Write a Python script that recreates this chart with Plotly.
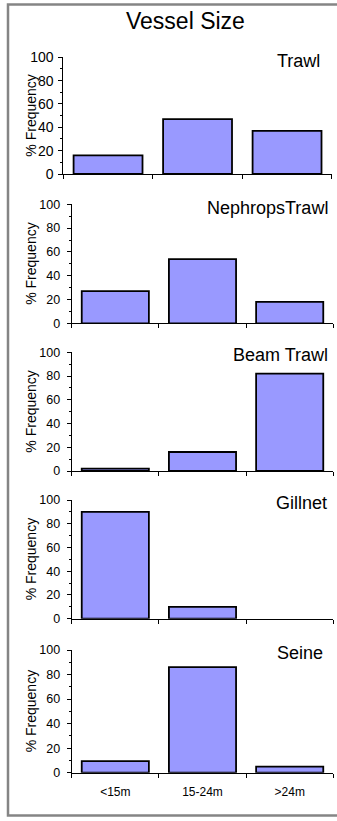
import plotly.graph_objects as go

# Vessel-size categories and % frequency per gear type
sizes = ["<15m", "15-24m", ">24m"]
gears = ["Trawl", "NephropsTrawl", "Beam Trawl", "Gillnet", "Seine"]
trawl = [16, 47, 37]
nephrops_trawl = [27, 54, 18]
beam_trawl = [2, 16, 82]
gillnet = [90, 10, 0]
seine = [9.5, 86, 5]
y_ticks = [0, 20, 40, 60, 80, 100]

series = [trawl, nephrops_trawl, beam_trawl, gillnet, seine]

W, H = 337, 821
FONT = "Liberation Sans, Arial, sans-serif"

# plot boxes in pixels: left, right, top, bottom
boxes = [
    (63.3, 331.8, 57.3, 174.0),
    (71.7, 333.3, 204.3, 323.3),
    (71.7, 333.3, 352.3, 471.0),
    (71.7, 333.3, 500.0, 618.7),
    (71.7, 333.3, 650.0, 772.7),
]
# gear label anchor (right edge x, vertical centre y) in pixels
label_pos = [(322, 61), (330, 207.5), (330, 354.5), (328.5, 503), (324.5, 652.5)]
# y tick font size and label standoff per panel (the top chart is scaled larger)
ytick_size = [14, 12.5, 12.5, 12.5, 12.5]
ytick_standoff = [2, 4, 4, 4, 4]


def px_x(v):
    return v / W


def px_y(v):
    return 1 - v / H


fig = go.Figure()
annotations = []
layout_axes = {}

for i, (vals, name) in enumerate(zip(series, gears)):
    n = i + 1
    xa = "x" if n == 1 else f"x{n}"
    ya = "y" if n == 1 else f"y{n}"
    # empty categories get no outline so nothing is drawn on the axis
    outline = [1.8 if v > 0 else 0 for v in vals]
    fig.add_trace(go.Bar(
        x=sizes, y=vals, xaxis=xa, yaxis=ya,
        marker=dict(color="#9999FF", line=dict(color="black", width=outline)),
        hoverinfo="skip",
    ))
    l, r, t, b = boxes[i]
    last = n == len(series)
    layout_axes[f"xaxis{'' if n == 1 else n}"] = dict(
        domain=[px_x(l), px_x(r)], anchor=ya, automargin=False,
        type="category", categoryorder="array", categoryarray=sizes,
        range=[-0.5, 2.5],
        showline=True, linecolor="black", linewidth=1,
        ticks="outside", tickson="boundaries", ticklen=4, tickwidth=1, tickcolor="black",
        showticklabels=last, ticklabelstandoff=8,
        tickfont=dict(family=FONT, size=12, color="black"),
        showgrid=False, zeroline=False, fixedrange=True,
    )
    layout_axes[f"yaxis{'' if n == 1 else n}"] = dict(
        domain=[px_y(b), px_y(t)], anchor=xa, automargin=False,
        range=[0, 100], tickvals=y_ticks,
        showline=True, linecolor="black", linewidth=1,
        ticks="outside", ticklen=4, tickwidth=1, tickcolor="black",
        minor=dict(dtick=10, ticks="outside", ticklen=2, tickcolor="black", tickwidth=1),
        ticklabelstandoff=ytick_standoff[i],
        tickfont=dict(family=FONT, size=ytick_size[i], color="black"),
        showgrid=False, zeroline=False, fixedrange=True,
    )
    # gear name in the top-right corner of each panel
    lx, ly = label_pos[i]
    annotations.append(dict(
        text=name, xref="paper", yref="paper", x=px_x(lx), y=px_y(ly),
        xanchor="right", yanchor="middle", showarrow=False,
        font=dict(family=FONT, size=18, color="black"),
    ))
    # rotated y-axis title
    annotations.append(dict(
        text="% Frequency", xref="paper", yref="paper", x=px_x(31), y=px_y((t + b) / 2),
        xanchor="center", yanchor="middle", textangle=-90, showarrow=False,
        font=dict(family=FONT, size=14, color="black"),
    ))

annotations.append(dict(
    text="Vessel Size", xref="paper", yref="paper", x=px_x(185), y=px_y(21),
    xanchor="center", yanchor="middle", showarrow=False,
    font=dict(family=FONT, size=23, color="black"),
))

fig.update_layout(
    template="none",
    width=W, height=H, autosize=False,
    margin=dict(l=0, r=0, t=0, b=0, pad=0),
    paper_bgcolor="white", plot_bgcolor="white",
    showlegend=False, bargap=0.23,
    annotations=annotations,
    shapes=[dict(
        type="rect", xref="paper", yref="paper",
        x0=px_x(8), x1=px_x(345), y0=px_y(815.5), y1=px_y(4.5),
        line=dict(color="#858585", width=2.5), fillcolor="rgba(0,0,0,0)",
        layer="below",
    )],
    **layout_axes,
)

fig.write_html("out.html")
